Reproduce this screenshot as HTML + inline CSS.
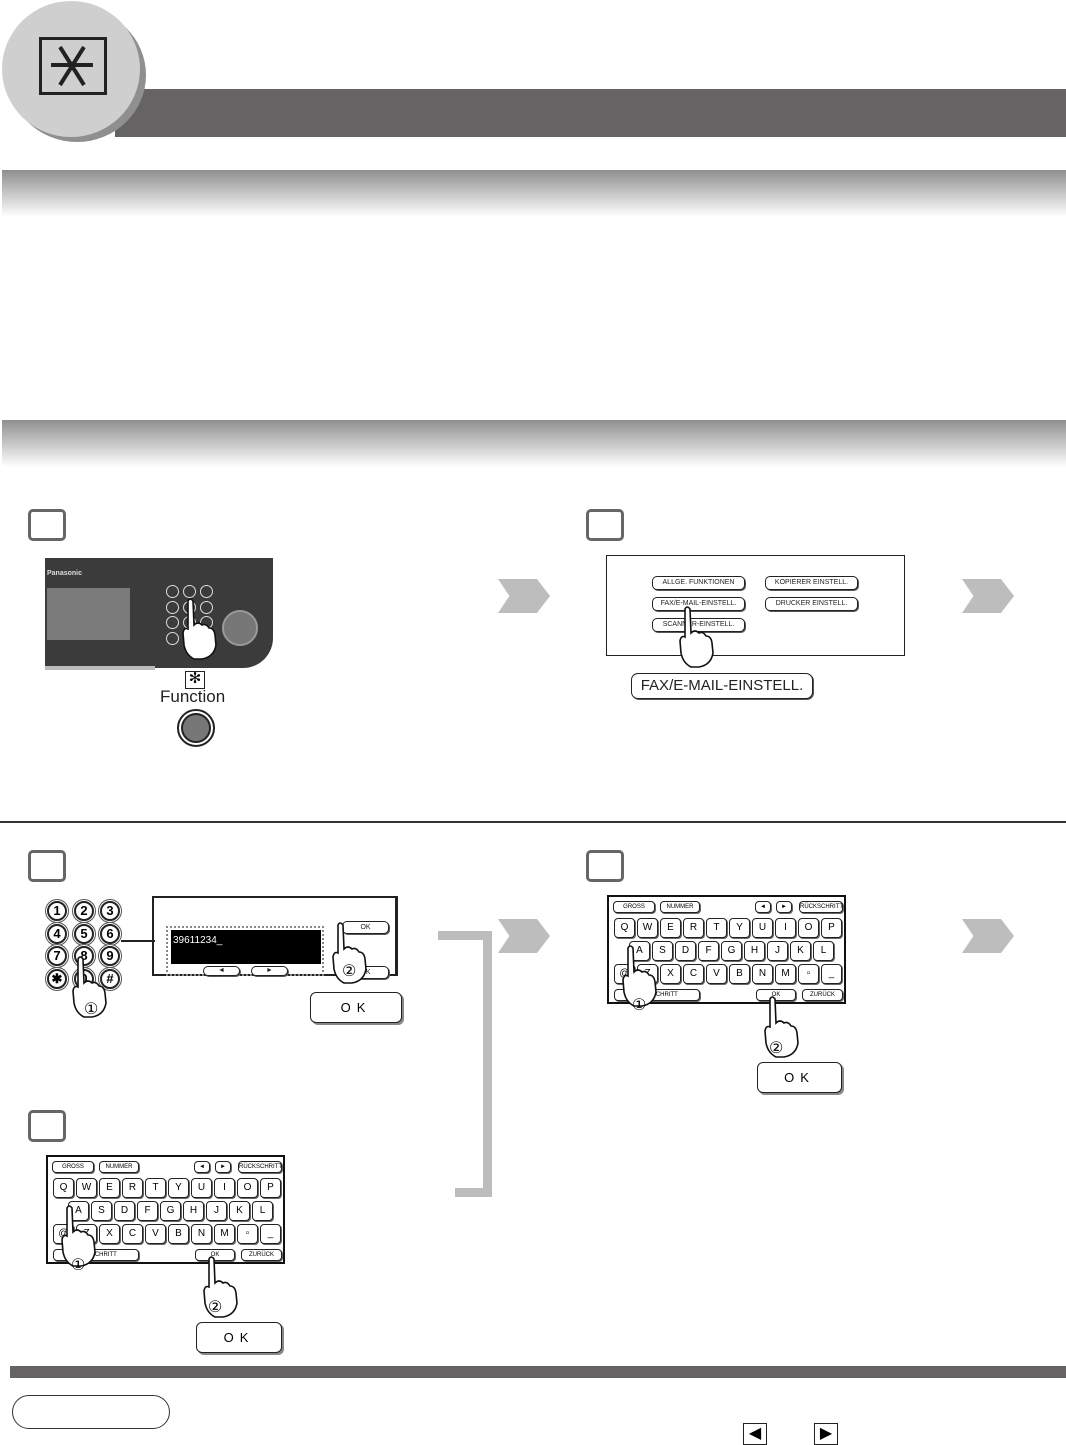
<!DOCTYPE html>
<html><head><meta charset="utf-8"><style>
*{margin:0;padding:0;box-sizing:border-box}
body{width:1066px;height:1445px;background:#fff;position:relative;overflow:hidden;font-family:"Liberation Sans",sans-serif}
.a{position:absolute}
.grad{position:absolute;left:2px;width:1064px;height:47px;background:linear-gradient(#8f8f8f,#fff)}
.step{position:absolute;width:38px;height:32px;border:3px solid #666;border-radius:5px;background:#fff}
.chev{position:absolute;width:52px;height:34px;background:#bdbdbd;clip-path:polygon(0 0,75% 0,100% 50%,75% 100%,0 100%,22% 50%)}
.btn{position:absolute;border:1px solid #222;border-radius:5px;background:#fff;font-size:8px;text-align:center;color:#222;box-shadow:1px 1px 0 #555;white-space:nowrap;overflow:hidden}
.kb{position:absolute;width:239px;height:109px;border:2px solid #111;background:#fff}
.k{position:absolute;width:21px;height:20px;border:1px solid #222;border-radius:4px;font-size:10px;line-height:18px;text-align:center;box-shadow:1px 1px 0 #666;background:#fff}
.sk{position:absolute;height:12px;border:1px solid #222;border-radius:4px;font-size:6px;line-height:10px;text-align:center;background:#fff;box-shadow:1px 1px 0 #666;white-space:nowrap;overflow:hidden}
.nk{position:absolute;width:20px;height:20px;border:2px solid #222;border-radius:50%;font-size:13px;font-weight:bold;line-height:16px;text-align:center;background:#fff;box-shadow:0 0 0 1px #fff,0 0 0 2px #555}
.okb{position:absolute;width:92px;height:31px;border:1px solid #222;border-radius:6px;font-size:13px;line-height:29px;text-align:center;letter-spacing:6px;box-shadow:2px 2px 0 #888;background:#fff}
</style></head><body>
<svg width="0" height="0" style="position:absolute"><defs>
<symbol id="hand" viewBox="0 0 40 64"><path d="M8 4 Q10 0 13 4 L14 28 Q18 24 22 28 Q26 26 29 31 Q34 31 35 38 L36 48 Q34 60 22 62 L14 62 Q6 58 4 48 L3 36 Q4 30 8 32 Z" fill="#fff" stroke="#111" stroke-width="1.6"/></symbol>
</defs></svg>

<!-- header -->
<div class="a" style="left:115px;top:89px;width:951px;height:48px;background:#656363"></div>
<div class="a" style="left:8px;top:8px;width:138px;height:134px;border-radius:50%;background:#8f8f8f"></div>
<div class="a" style="left:2px;top:1px;width:138px;height:136px;border-radius:50%;background:#cfcfcf"></div>
<div class="a" style="left:39px;top:37px;width:68px;height:58px;border:3px solid #222"></div>
<div class="a" style="left:50px;top:45px;width:46px;height:44px">
<svg width="46" height="44"><g stroke="#222" stroke-width="4"><line x1="1" y1="20" x2="43" y2="20"/><line x1="10" y1="2" x2="34" y2="40"/><line x1="34" y1="2" x2="10" y2="40"/></g></svg></div>

<div class="grad" style="top:170px"></div>
<div class="grad" style="top:420px"></div>

<!-- step boxes -->
<div class="step" style="left:28px;top:509px"></div>
<div class="step" style="left:586px;top:509px"></div>
<div class="step" style="left:28px;top:850px"></div>
<div class="step" style="left:586px;top:850px"></div>
<div class="step" style="left:28px;top:1110px"></div>

<div class="chev" style="left:498px;top:579px"></div>
<div class="chev" style="left:962px;top:579px"></div>
<div class="chev" style="left:498px;top:919px"></div>
<div class="chev" style="left:962px;top:919px"></div>

<!-- step 1 panel -->
<div class="a" style="left:45px;top:558px;width:228px;height:110px;background:#3b3b3b;border-radius:0 0 30px 0"></div>
<div class="a" style="left:45px;top:666px;width:110px;height:4px;background:#bbb"></div>
<div class="a" style="left:47px;top:588px;width:83px;height:52px;background:#7a7a7a"></div>
<div class="a" style="left:47px;top:570px;font-size:7px;color:#ddd;font-weight:bold">Panasonic</div>
<div class="a" style="left:166px;top:585px;width:46px;height:60px;display:grid;grid-template-columns:repeat(3,15px);gap:2px">
<div style="width:13px;height:13px;border-radius:50%;border:1.5px solid #ddd"></div><div style="width:13px;height:13px;border-radius:50%;border:1.5px solid #ddd"></div><div style="width:13px;height:13px;border-radius:50%;border:1.5px solid #ddd"></div>
<div style="width:13px;height:13px;border-radius:50%;border:1.5px solid #ddd"></div><div style="width:13px;height:13px;border-radius:50%;border:1.5px solid #ddd"></div><div style="width:13px;height:13px;border-radius:50%;border:1.5px solid #ddd"></div>
<div style="width:13px;height:13px;border-radius:50%;border:1.5px solid #ddd"></div><div style="width:13px;height:13px;border-radius:50%;border:1.5px solid #ddd"></div><div style="width:13px;height:13px;border-radius:50%;border:1.5px solid #ddd"></div>
<div style="width:13px;height:13px;border-radius:50%;border:1.5px solid #ddd"></div><div style="width:13px;height:13px;border-radius:50%;border:1.5px solid #ddd"></div><div style="width:13px;height:13px;border-radius:50%;border:1.5px solid #ddd"></div></div>
<div class="a" style="left:222px;top:610px;width:36px;height:36px;border-radius:50%;background:#777;border:2px solid #999"></div>
<svg class="a" style="left:180px;top:597px" width="40" height="64"><use href="#hand"/></svg>
<div class="a" style="left:185px;top:671px;width:20px;height:18px;border:1.5px solid #222;font-size:15px;line-height:14px;text-align:center">✻</div>
<div class="a" style="left:160px;top:687px;font-size:17px;color:#222">Function</div>
<div class="a" style="left:177px;top:709px;width:38px;height:38px;border-radius:50%;border:2px solid #222;background:#fff"></div>
<div class="a" style="left:181px;top:713px;width:30px;height:30px;border-radius:50%;border:2px solid #222;background:#777"></div>

<!-- step 2 -->
<div class="a" style="left:606px;top:555px;width:299px;height:101px;border:1.5px solid #222"></div>
<div class="btn" style="left:652px;top:576px;width:93px;height:14px;font-size:7px;line-height:12px">ALLGE. FUNKTIONEN</div>
<div class="btn" style="left:765px;top:576px;width:93px;height:14px;font-size:7px;line-height:12px">KOPIERER EINSTELL.</div>
<div class="btn" style="left:652px;top:597px;width:93px;height:14px;font-size:7px;line-height:12px">FAX/E-MAIL-EINSTELL.</div>
<div class="btn" style="left:765px;top:597px;width:93px;height:14px;font-size:7px;line-height:12px">DRUCKER EINSTELL.</div>
<div class="btn" style="left:652px;top:618px;width:93px;height:14px;font-size:7px;line-height:12px">SCANNER-EINSTELL.</div>
<svg class="a" style="left:677px;top:605px" width="40" height="64"><use href="#hand"/></svg>
<div class="btn" style="left:631px;top:673px;width:182px;height:26px;font-size:15px;line-height:24px;border-radius:7px">FAX/E-MAIL-EINSTELL.</div>

<div class="a" style="left:0;top:821px;width:1066px;height:2px;background:#333"></div>

<!-- step 3 -->
<div class="nk" style="left:47px;top:901px">1</div><div class="nk" style="left:74px;top:901px">2</div><div class="nk" style="left:100px;top:901px">3</div>
<div class="nk" style="left:47px;top:924px">4</div><div class="nk" style="left:74px;top:924px">5</div><div class="nk" style="left:100px;top:924px">6</div>
<div class="nk" style="left:47px;top:946px">7</div><div class="nk" style="left:74px;top:946px">8</div><div class="nk" style="left:100px;top:946px">9</div>
<div class="nk" style="left:47px;top:969px">✱</div><div class="nk" style="left:74px;top:969px">0</div><div class="nk" style="left:100px;top:969px">#</div>
<svg class="a" style="left:70px;top:955px" width="40" height="64"><use href="#hand"/></svg>
<div class="a" style="left:84px;top:999px;font-size:16px">①</div>
<div class="a" style="left:121px;top:940px;width:34px;height:2px;background:#222"></div>
<div class="a" style="left:152px;top:896px;width:246px;height:80px;border:2px solid #222;border-right-width:3px"></div>
<div class="a" style="left:166px;top:926px;width:158px;height:50px;border:2px dotted #888"></div>
<div class="a" style="left:171px;top:930px;width:150px;height:34px;background:#000;color:#fff;font-size:10px;padding:5px 2px">39611234_</div>
<div class="btn" style="left:203px;top:966px;width:37px;height:10px;font-size:7px;line-height:8px">◄</div>
<div class="btn" style="left:251px;top:966px;width:37px;height:10px;font-size:7px;line-height:8px">►</div>
<div class="btn" style="left:342px;top:921px;width:47px;height:13px;font-size:7px;line-height:11px">OK</div>
<div class="btn" style="left:342px;top:966px;width:47px;height:13px;font-size:7px;line-height:11px">OK</div>
<svg class="a" style="left:330px;top:921px" width="40" height="64"><use href="#hand"/></svg>
<div class="a" style="left:342px;top:961px;font-size:16px">②</div>
<div class="okb" style="left:310px;top:992px">OK</div>

<!-- connector -->
<div class="a" style="left:438px;top:931px;width:53px;height:9px;background:#bdbdbd"></div>
<div class="a" style="left:483px;top:931px;width:9px;height:265px;background:#bdbdbd"></div>
<div class="a" style="left:455px;top:1188px;width:37px;height:9px;background:#bdbdbd"></div>

<!-- keyboard right -->
<div class="kb" style="left:607px;top:895px">
<div class="sk" style="left:4px;top:4px;width:42px">GROSS</div><div class="sk" style="left:51px;top:4px;width:40px">NUMMER</div>
<div class="sk" style="left:146px;top:4px;width:16px">◄</div><div class="sk" style="left:167px;top:4px;width:16px">►</div><div class="sk" style="left:190px;top:4px;width:44px">RÜCKSCHRITT</div>
<div class="k" style="left:5px;top:21px">Q</div><div class="k" style="left:28px;top:21px">W</div><div class="k" style="left:51px;top:21px">E</div><div class="k" style="left:74px;top:21px">R</div><div class="k" style="left:97px;top:21px">T</div><div class="k" style="left:120px;top:21px">Y</div><div class="k" style="left:143px;top:21px">U</div><div class="k" style="left:166px;top:21px">I</div><div class="k" style="left:189px;top:21px">O</div><div class="k" style="left:212px;top:21px">P</div>
<div class="k" style="left:20px;top:44px">A</div><div class="k" style="left:43px;top:44px">S</div><div class="k" style="left:66px;top:44px">D</div><div class="k" style="left:89px;top:44px">F</div><div class="k" style="left:112px;top:44px">G</div><div class="k" style="left:135px;top:44px">H</div><div class="k" style="left:158px;top:44px">J</div><div class="k" style="left:181px;top:44px">K</div><div class="k" style="left:204px;top:44px">L</div>
<div class="k" style="left:5px;top:67px">@</div><div class="k" style="left:28px;top:67px">Z</div><div class="k" style="left:51px;top:67px">X</div><div class="k" style="left:74px;top:67px">C</div><div class="k" style="left:97px;top:67px">V</div><div class="k" style="left:120px;top:67px">B</div><div class="k" style="left:143px;top:67px">N</div><div class="k" style="left:166px;top:67px">M</div><div class="k" style="left:189px;top:67px">▫</div><div class="k" style="left:212px;top:67px">_</div>
<div class="sk" style="left:5px;top:92px;width:86px">LEERSCHRITT</div><div class="sk" style="left:147px;top:92px;width:40px">OK</div><div class="sk" style="left:193px;top:92px;width:41px">ZURÜCK</div>
</div>
<svg class="a" style="left:620px;top:944px" width="40" height="64"><use href="#hand"/></svg>
<div class="a" style="left:632px;top:995px;font-size:16px">①</div>
<svg class="a" style="left:762px;top:995px" width="40" height="64"><use href="#hand"/></svg>
<div class="a" style="left:769px;top:1038px;font-size:16px">②</div>
<div class="okb" style="left:757px;top:1062px;width:85px">OK</div>

<!-- keyboard left -->
<div class="kb" style="left:46px;top:1155px">
<div class="sk" style="left:4px;top:4px;width:42px">GROSS</div><div class="sk" style="left:51px;top:4px;width:40px">NUMMER</div>
<div class="sk" style="left:146px;top:4px;width:16px">◄</div><div class="sk" style="left:167px;top:4px;width:16px">►</div><div class="sk" style="left:190px;top:4px;width:44px">RÜCKSCHRITT</div>
<div class="k" style="left:5px;top:21px">Q</div><div class="k" style="left:28px;top:21px">W</div><div class="k" style="left:51px;top:21px">E</div><div class="k" style="left:74px;top:21px">R</div><div class="k" style="left:97px;top:21px">T</div><div class="k" style="left:120px;top:21px">Y</div><div class="k" style="left:143px;top:21px">U</div><div class="k" style="left:166px;top:21px">I</div><div class="k" style="left:189px;top:21px">O</div><div class="k" style="left:212px;top:21px">P</div>
<div class="k" style="left:20px;top:44px">A</div><div class="k" style="left:43px;top:44px">S</div><div class="k" style="left:66px;top:44px">D</div><div class="k" style="left:89px;top:44px">F</div><div class="k" style="left:112px;top:44px">G</div><div class="k" style="left:135px;top:44px">H</div><div class="k" style="left:158px;top:44px">J</div><div class="k" style="left:181px;top:44px">K</div><div class="k" style="left:204px;top:44px">L</div>
<div class="k" style="left:5px;top:67px">@</div><div class="k" style="left:28px;top:67px">Z</div><div class="k" style="left:51px;top:67px">X</div><div class="k" style="left:74px;top:67px">C</div><div class="k" style="left:97px;top:67px">V</div><div class="k" style="left:120px;top:67px">B</div><div class="k" style="left:143px;top:67px">N</div><div class="k" style="left:166px;top:67px">M</div><div class="k" style="left:189px;top:67px">▫</div><div class="k" style="left:212px;top:67px">_</div>
<div class="sk" style="left:5px;top:92px;width:86px">LEERSCHRITT</div><div class="sk" style="left:147px;top:92px;width:40px">OK</div><div class="sk" style="left:193px;top:92px;width:41px">ZURÜCK</div>
</div>
<svg class="a" style="left:59px;top:1204px" width="40" height="64"><use href="#hand"/></svg>
<div class="a" style="left:71px;top:1255px;font-size:16px">①</div>
<svg class="a" style="left:201px;top:1255px" width="40" height="64"><use href="#hand"/></svg>
<div class="a" style="left:208px;top:1297px;font-size:16px">②</div>
<div class="okb" style="left:196px;top:1322px;width:86px">OK</div>

<!-- footer -->
<div class="a" style="left:10px;top:1366px;width:1056px;height:12px;background:#656363"></div>
<div class="a" style="left:12px;top:1395px;width:158px;height:34px;border:1.5px solid #333;border-radius:17px"></div>
<div class="a" style="left:743px;top:1423px;width:24px;height:22px;border:1px solid #222;font-size:16px;line-height:20px;text-align:center">◀</div>
<div class="a" style="left:814px;top:1423px;width:24px;height:22px;border:1px solid #222;font-size:16px;line-height:20px;text-align:center">▶</div>
</body></html>
